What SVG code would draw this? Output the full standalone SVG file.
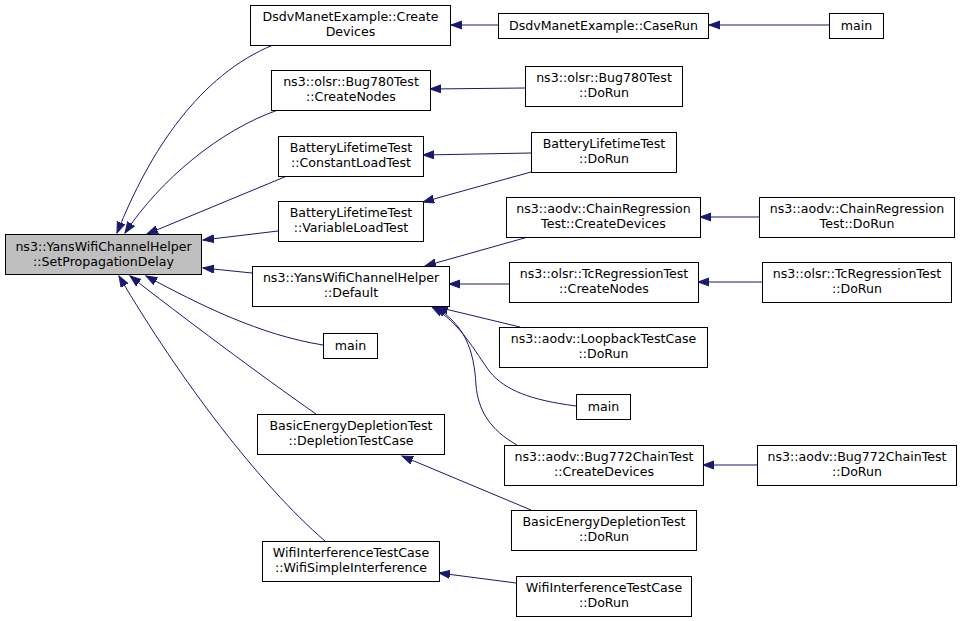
<svg xmlns="http://www.w3.org/2000/svg" width="968" height="621" viewBox="0 0 968 621">
<defs>
<marker id="ah" markerUnits="userSpaceOnUse" markerWidth="13" markerHeight="10" refX="11" refY="4.5" orient="auto">
<path d="M0,0.5 L11,4.5 L0,8.5 z" fill="#191970" stroke="#191970" stroke-width="1"/>
</marker>
</defs>
<style>
rect{fill:#fff;stroke:#000;stroke-width:1}
.hl rect{fill:#bfbfbf}
text{font-family:"DejaVu Sans","Liberation Sans",sans-serif;font-size:12.6px;fill:#000;text-anchor:middle}
#edges path{fill:none;stroke:#191970;stroke-width:1;marker-end:url(#ah)}
</style>
<rect x="0" y="0" width="968" height="621" style="fill:#fff;stroke:none"/>
<g id="edges">
<path d="M498,25 L451,25"/>
<path d="M829,25 L709,25"/>
<path d="M525,88 L430,89"/>
<path d="M531,153 L423,155"/>
<path d="M531,172 L423,202"/>
<path d="M528,237 L425,266"/>
<path d="M509,284 L449,284"/>
<path d="M520,327 L437,307"/>
<path d="M576,406 C530,400 505,390 490,372 C475,352 460,322 432,307"/>
<path d="M517,445 C490,430 478,410 476,385 C474,350 465,325 435,307"/>
<path d="M757,465 L703,465"/>
<path d="M759,217 L700,217"/>
<path d="M762,282 L698,282"/>
<path d="M531,510 L402,456"/>
<path d="M516,583 L439,573"/>
<path d="M273,45 C200,75 150,150 117,233"/>
<path d="M278,110 C220,130 160,180 125,233"/>
<path d="M287,176 L147,234"/>
<path d="M278,231 L203,240"/>
<path d="M252,273 L203,268"/>
<path d="M323,345 C260,335 200,305 146,276"/>
<path d="M316,414 C260,375 180,315 130,276"/>
<path d="M325,541 C260,485 180,380 119,276"/>
</g>
<g id="spd" class="hl"><rect x="5.5" y="234.5" width="196" height="40"/><text x="103.5" y="251">ns3::YansWifiChannelHelper</text><text x="103.5" y="266">::SetPropagationDelay</text></g>
<g id="dsdv_create"><rect x="250.5" y="5.5" width="200" height="40"/><text x="350.5" y="21">DsdvManetExample::Create</text><text x="350.5" y="36">Devices</text></g>
<g id="dsdv_caserun"><rect x="498.5" y="13.5" width="210" height="25"/><text x="603.5" y="30">DsdvManetExample::CaseRun</text></g>
<g id="main1"><rect x="829.5" y="13.5" width="54" height="25"/><text x="856.5" y="30">main</text></g>
<g id="bug780_create"><rect x="271.5" y="70.5" width="159" height="40"/><text x="351" y="86">ns3::olsr::Bug780Test</text><text x="351" y="101">::CreateNodes</text></g>
<g id="bug780_dorun"><rect x="525.5" y="66.5" width="157" height="40"/><text x="604" y="82">ns3::olsr::Bug780Test</text><text x="604" y="97">::DoRun</text></g>
<g id="blt_const"><rect x="278.5" y="136.5" width="145" height="40"/><text x="351" y="152">BatteryLifetimeTest</text><text x="351" y="167">::ConstantLoadTest</text></g>
<g id="blt_dorun"><rect x="531.5" y="132.5" width="145" height="40"/><text x="604" y="148">BatteryLifetimeTest</text><text x="604" y="163">::DoRun</text></g>
<g id="blt_var"><rect x="278.5" y="201.5" width="145" height="40"/><text x="351" y="217">BatteryLifetimeTest</text><text x="351" y="232">::VariableLoadTest</text></g>
<g id="default"><rect x="252.5" y="266.5" width="197" height="40"/><text x="351" y="282">ns3::YansWifiChannelHelper</text><text x="351" y="297">::Default</text></g>
<g id="main2"><rect x="323.5" y="333.5" width="54" height="25"/><text x="350.5" y="350">main</text></g>
<g id="bedt_case"><rect x="257.5" y="414.5" width="187" height="40"/><text x="351" y="430">BasicEnergyDepletionTest</text><text x="351" y="445">::DepletionTestCase</text></g>
<g id="wifi_simple"><rect x="262.5" y="541.5" width="177" height="40"/><text x="351" y="557">WifiInterferenceTestCase</text><text x="351" y="572">::WifiSimpleInterference</text></g>
<g id="chain_create"><rect x="506.5" y="197.5" width="194" height="40"/><text x="603.5" y="213">ns3::aodv::ChainRegression</text><text x="603.5" y="228">Test::CreateDevices</text></g>
<g id="chain_dorun"><rect x="759.5" y="197.5" width="195" height="40"/><text x="857" y="213">ns3::aodv::ChainRegression</text><text x="857" y="228">Test::DoRun</text></g>
<g id="tc_create"><rect x="509.5" y="262.5" width="189" height="40"/><text x="604" y="278">ns3::olsr::TcRegressionTest</text><text x="604" y="293">::CreateNodes</text></g>
<g id="tc_dorun"><rect x="762.5" y="262.5" width="189" height="40"/><text x="857" y="278">ns3::olsr::TcRegressionTest</text><text x="857" y="293">::DoRun</text></g>
<g id="loopback"><rect x="499.5" y="327.5" width="208" height="40"/><text x="603.5" y="343">ns3::aodv::LoopbackTestCase</text><text x="603.5" y="358">::DoRun</text></g>
<g id="main3"><rect x="576.5" y="394.5" width="54" height="25"/><text x="603.5" y="411">main</text></g>
<g id="bug772_create"><rect x="504.5" y="445.5" width="199" height="40"/><text x="604" y="461">ns3::aodv::Bug772ChainTest</text><text x="604" y="476">::CreateDevices</text></g>
<g id="bug772_dorun"><rect x="757.5" y="445.5" width="199" height="40"/><text x="857" y="461">ns3::aodv::Bug772ChainTest</text><text x="857" y="476">::DoRun</text></g>
<g id="bedt_dorun"><rect x="511.5" y="510.5" width="185" height="40"/><text x="604" y="526">BasicEnergyDepletionTest</text><text x="604" y="541">::DoRun</text></g>
<g id="wifi_dorun"><rect x="516.5" y="576.5" width="175" height="40"/><text x="604" y="592">WifiInterferenceTestCase</text><text x="604" y="607">::DoRun</text></g>
</svg>
